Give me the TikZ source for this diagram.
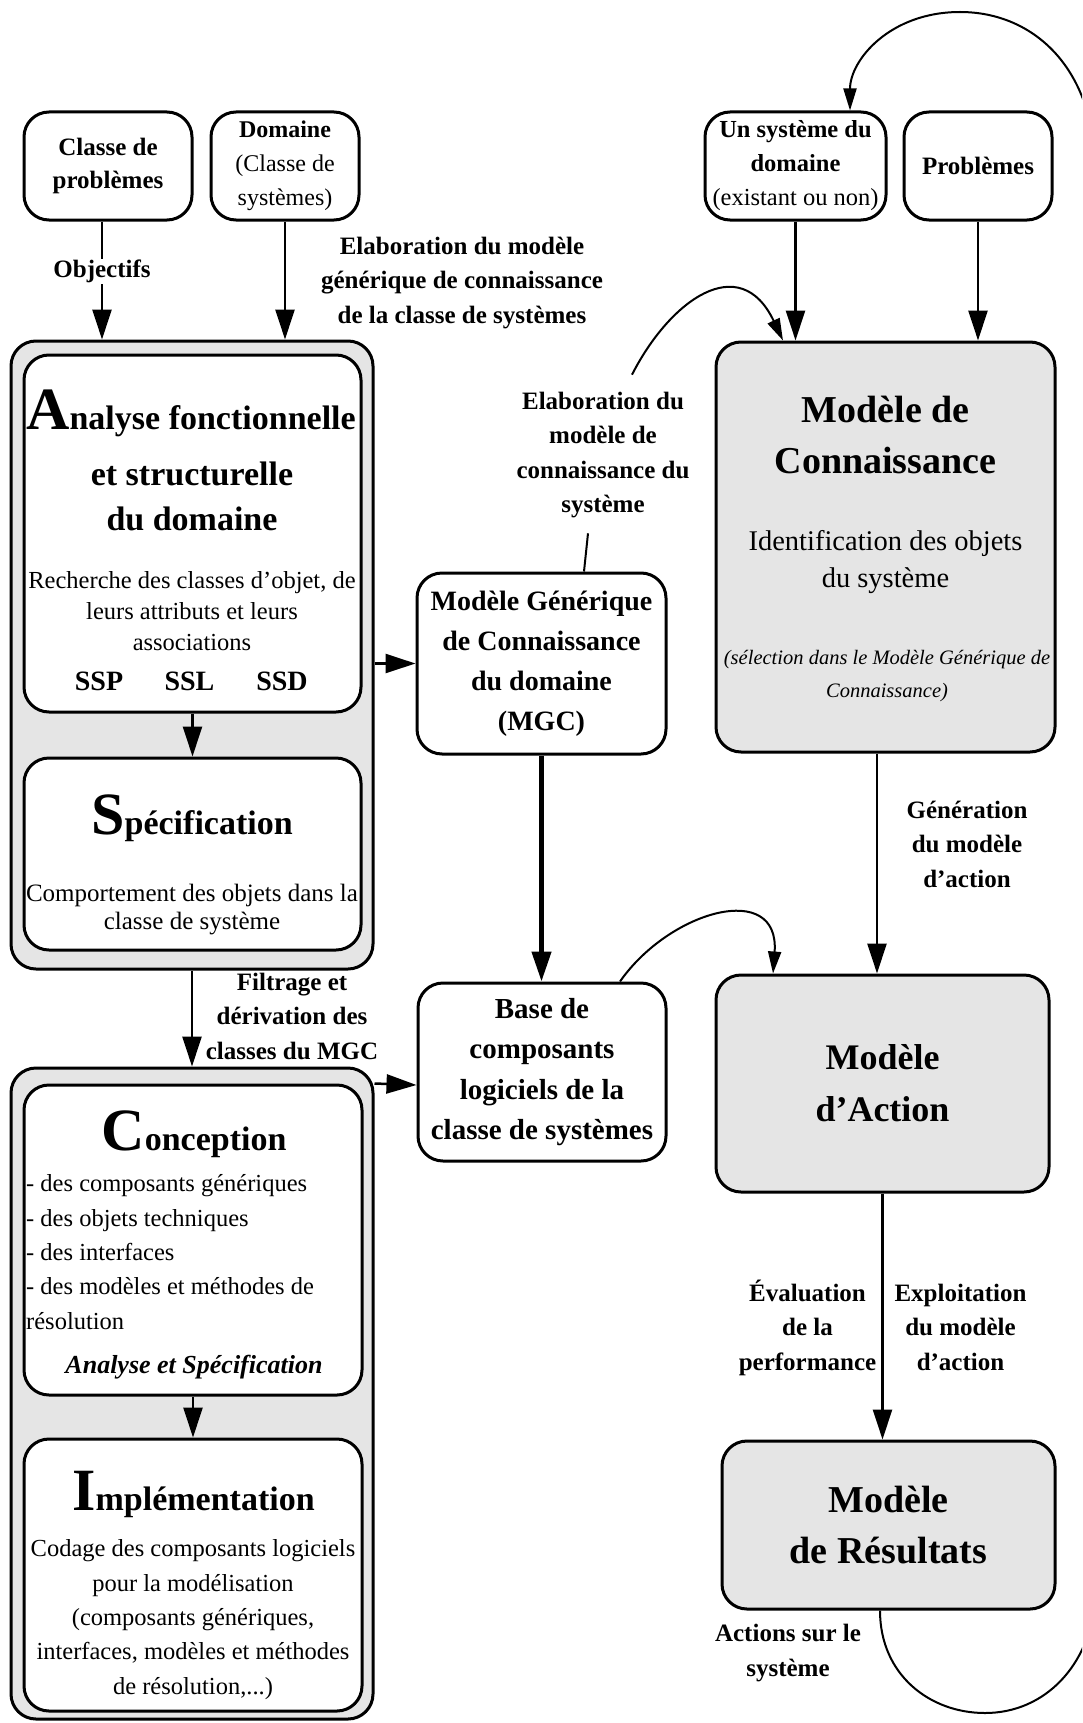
\documentclass[tikz,border=0pt]{standalone}
\usepackage{fontspec}
\setmainfont{Liberation Serif}
\usetikzlibrary{arrows.meta,calc}
\newcommand\myfs[2]{\fontsize{#1}{#2}\selectfont}
\begin{document}
\begin{tikzpicture}[x=1pt,y=-1pt,
  box/.style={draw, line width=3pt, rounded corners=25pt, fill=white, inner sep=0pt, align=center},
  gbox/.style={box, fill=black!10},
  arr/.style={line width=2.5pt, -{Triangle[length=30pt,width=19pt]}},
  carr/.style={line width=2pt, -{Triangle[length=22pt,width=13pt]}},
  lbl/.style={font=\bfseries\myfs{25}{34.5}, align=center, inner sep=0pt},
  txt/.style={inner sep=0pt, align=center}]
\useasboundingbox (0,0) rectangle (1082,1723);
% top boxes
\node[box, minimum width=168pt, minimum height=108pt, font=\bfseries\myfs{25}{33}] (classe) at (108,166) {Classe de\\problèmes};
\node[box, minimum width=148pt, minimum height=108pt, font=\myfs{24}{34}] (domaine) at (285,166) {\textbf{Domaine}\\(Classe de\\systèmes)};
\node[box, minimum width=181pt, minimum height=108pt, font=\myfs{24.5}{34}] (unsys) at (795.5,166) {\textbf{Un système du}\\\textbf{domaine}\\(existant ou non)};
\node[box, minimum width=148pt, minimum height=108pt, font=\bfseries\myfs{25}{33}] (prob) at (978,166) {Problèmes};
% left column
\node[gbox, minimum width=362pt, minimum height=628pt] (outer1) at (192,655) {};
\node[box, minimum width=337pt, minimum height=357pt] (analyse) at (192.5,533.5) {};
\node[box, minimum width=337pt, minimum height=192pt] (spec) at (192.5,854) {};
\node[gbox, minimum width=362pt, minimum height=651pt] (outer2) at (192,1393.5) {};
\node[box, minimum width=338pt, minimum height=310pt] (conc) at (193,1240) {};
\node[box, minimum width=338pt, minimum height=272pt] (impl) at (193,1575) {};
% middle and right
\node[gbox, minimum width=339pt, minimum height=410pt] (conn) at (885.5,547) {};
\node[box, minimum width=249pt, minimum height=181pt, font=\bfseries\myfs{28}{40}] (mgc) at (541.5,663.5) {Modèle Générique\\de Connaissance\\du domaine\\(MGC)};
\node[box, minimum width=248pt, minimum height=178pt, font=\bfseries\myfs{29}{40.5}] (base) at (542,1072) {Base de\\composants\\logiciels de la\\classe de systèmes};
\node[gbox, minimum width=333pt, minimum height=217pt, font=\bfseries\myfs{36}{52}] (action) at (882.5,1083.5) {Modèle\\d'Action};
\node[gbox, minimum width=333pt, minimum height=168pt, font=\bfseries\myfs{38}{51}] (res) at (888.5,1525) {Modèle\\de Résultats};
% texts in Analyse
\node[txt, anchor=base, font=\bfseries\myfs{34}{45}] (an1) at (191,429) {{\myfs{60}{60}A}nalyse fonctionnelle};
\node[txt, font=\bfseries\myfs{34}{45}] (an2) at (192,496) {et structurelle\\du domaine};
\node[txt, font=\myfs{24.5}{31}] (an3) at (192,611.5) {Recherche des classes d'objet, de\\leurs attributs et leurs\\associations};
\node[txt, anchor=base, font=\bfseries\myfs{28}{28}] (ssp) at (99,690) {SSP};
\node[txt, anchor=base, font=\bfseries\myfs{28}{28}] (ssl) at (189.5,690) {SSL};
\node[txt, anchor=base, font=\bfseries\myfs{28}{28}] (ssd) at (282,690) {SSD};
% texts in Specification
\node[txt, anchor=base, font=\bfseries\myfs{34}{45}] (sp1) at (192,834) {{\myfs{60}{60}S}pécification};
\node[txt, font=\myfs{25}{28.5}] (sp2) at (192,909.5) {Comportement des objets dans la\\classe de système};
% texts in Connaissance
\node[txt, font=\bfseries\myfs{38}{51}] (cn1) at (885.5,434.5) {Modèle de\\Connaissance};
\node[txt, font=\myfs{28.5}{37}] (cn2) at (885.5,562) {Identification des objets\\du système};
\node[txt, font=\itshape\myfs{20.5}{33}] (cn3) at (887,676) {(sélection dans le Modèle Générique de\\Connaissance)};
% texts in Conception
\node[txt, anchor=base, font=\bfseries\myfs{34}{45}] (co1) at (194,1150) {{\myfs{60}{60}C}onception};
\node[txt, anchor=west, align=left, font=\myfs{24.5}{34.3}] (co2) at (26,1252) {- des composants génériques\\- des objets techniques\\- des interfaces\\- des modèles et méthodes de\\résolution};
\node[txt, anchor=base, font=\bfseries\itshape\myfs{26}{26}] (co3) at (194,1373) {Analyse et Spécification};
% texts in Implementation
\node[txt, anchor=base, font=\bfseries\myfs{34}{45}] (im1) at (193.5,1510) {{\myfs{60}{60}I}mplémentation};
\node[txt, font=\myfs{24.5}{34.3}] (im2) at (193,1619.5) {Codage des composants logiciels\\pour la modélisation\\(composants génériques,\\interfaces, modèles et méthodes\\de résolution,...)};
% free labels
\node[lbl] (lgen1) at (462,282.7) {Elaboration du modèle\\générique de connaissance\\de la classe de systèmes};
\node[lbl] (lsys) at (603,455) {Elaboration du\\modèle de\\connaissance du\\système};
\node[lbl] (lgen) at (967,844) {Génération\\du modèle\\d'action};
\node[lbl] (lfilt) at (292,1016.4) {Filtrage et\\dérivation des\\classes du MGC};
\node[lbl] (leval) at (807.5,1327.5) {Évaluation\\de la\\performance};
\node[lbl] (lexpl) at (960.5,1327.3) {Exploitation\\du modèle\\d'action};
\node[lbl] (lact) at (788,1653) {Actions sur le\\système};
% connectors
\coordinate (c1) at ($(classe.south)+(-6,0)$);
\draw[arr] (c1) -- node[lbl, fill=white, inner sep=1pt, pos=0.42] (lobj) {Objectifs} (c1 |- outer1.north);
\draw[arr] (domaine.south) -- (domaine.south |- outer1.north);
\draw[arr] (unsys.south) -- (unsys.south |- conn.north);
\draw[arr] (prob.south) -- (prob.south |- conn.north);
\draw[arr] (analyse.south) -- (spec.north);
\draw[arr] (outer1.east |- mgc.west) -- (mgc.west);
\draw[line width=4.5pt, -{Triangle[length=30pt,width=19pt]}] (mgc.south) -- (mgc.south |- base.north);
\draw[line width=2pt] ($(mgc.north)+(42.5,0)$) -- ($(lsys.south)+(-15,15)$);
\draw[carr] ($(lsys.north)+(29,-17)$) .. controls (670,300) and (740,250) .. ($(conn.north)+(-102.5,0)$);
\coordinate (c2) at ($(conn.south)+(-8.5,0)$);
\draw[arr] (c2) -- (c2 |- action.north);
\draw[arr] (action.south) -- (action.south |- res.north);
\draw[carr] ($(base.north)+(78,0)$) .. controls (670,910) and (780,880) .. ($(action.north)+(-109.5,0)$);
\draw[arr] (outer1.south) -- (outer2.north);
\draw[arr] (conc.south) -- (impl.north);
\draw[arr] ($(outer2.north east)+(0,17)$) -- ($(base.west)+(0,13)$);
\begin{scope}
\clip (0,0) rectangle (1082,1723);
\draw[carr] ($(res.south)+(-8.5,0)$) .. controls (880,1675) and (930,1713) .. (985,1713) .. controls (1045,1713) and (1090,1665) .. (1095,1600) -- (1095,170) .. controls (1095,70) and (1035,12) .. (960,12) .. controls (890,12) and (850,60) .. ($(unsys.north)+(54.5,0)$);
\end{scope}
\end{tikzpicture}
\end{document}
